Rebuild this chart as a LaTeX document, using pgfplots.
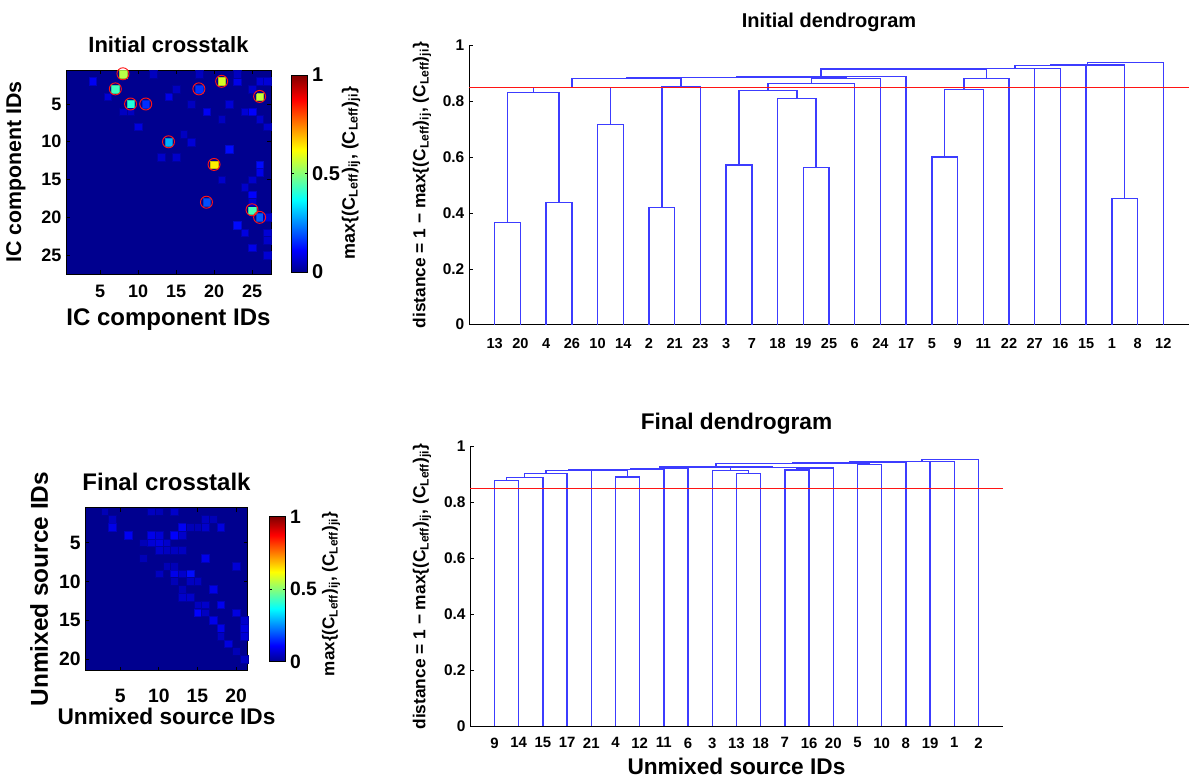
\documentclass[border=0pt]{standalone}
\usepackage{fontspec}
\setmainfont{Liberation Sans}
\usepackage{pgfplots}
\pgfplotsset{compat=1.18}
\definecolor{bgnavy}{RGB}{0,0,143}
\definecolor{mblue}{RGB}{60,60,255}
\definecolor{mred}{RGB}{255,20,20}
\newcommand\fs[1]{\fontsize{#1}{#1}\selectfont\bfseries}
\newcommand\cbl{max\{(C\textsubscript{Leff})\textsubscript{ij}, (C\textsubscript{Leff})\textsubscript{ji}\}}
\pgfplotsset{
  /pgf/number format/assume math mode=true,
  colormap={mjet}{rgb255(0cm)=(0,0,143) rgb255(7cm)=(0,0,255) rgb255(23cm)=(0,255,255) rgb255(39cm)=(255,255,0) rgb255(55cm)=(255,0,0) rgb255(63cm)=(128,0,0)},
  heat/.style={
    scale only axis, anchor=south west, y dir=reverse, enlargelimits=false,
    axis background/.style={fill=bgnavy}, clip=false, axis on top,
    tick align=inside, major tick length=3pt, tick style={black, line width=0.5pt},
    colormap name=mjet, point meta min=0, point meta max=1,
    xlabel style={anchor=center}, ylabel style={anchor=center},
    every axis title/.style={anchor=center},
  },
  dendro/.style={
    scale only axis, anchor=south west, ymin=0, ymax=1,
    axis x line*=bottom, axis y line*=left,
    tick align=inside, major tick length=3pt, tick style={black, line width=0.5pt},
    ytick={0,0.2,0.4,0.6,0.8,1},
    yticklabel style={font=\fs{11.6}},
    every axis title/.style={anchor=center}, ylabel style={anchor=center}, xlabel style={anchor=center},
    unbounded coords=jump, clip=false,
  },
}
\begin{document}
\begin{tikzpicture}
\useasboundingbox (0,0) rectangle (891.75pt,-582.75pt);

% ---------------- Initial crosstalk ----------------
\begin{axis}[heat,
  at={(49.5pt,-205.5pt)}, width=153.75pt, height=153pt,
  xmin=0.5, xmax=27.5, ymin=0.5, ymax=27.5,
  xtick={5,10,15,20,25}, ytick={5,10,15,20,25},
  ticklabel style={font=\fs{13.5}},
  xticklabel style={yshift=-5pt},
  title={Initial crosstalk}, title style={at={(0.5,1.1225)}, font=\fs{16.5}},
  xlabel={IC component IDs}, xlabel style={at={(0.5,-0.2255)}, font=\fs{18}},
  ylabel={IC component IDs}, ylabel style={at={(-0.244,0.5)}, font=\fs{16}},
  colorbar, colorbar style={scale only axis, width=12pt, height=147.75pt,
    at={(parent axis.east)}, anchor=west, xshift=6.75pt, yshift=-1.1pt,
    ytick={0,0.5,1}, yticklabel style={font=\fs{15}}, tick align=inside,
    major tick length=2pt},
]
\addplot[scatter, only marks, mark=square*, mark size=2.85pt, scatter src=explicit, line width=0.1pt]
table[x=c, y=r, meta=v] {
r c v
1 8 0.548
2 21 0.581
3 7 0.428
4 26 0.561
5 9 0.399
5 11 0.156
3 18 0.160
10 14 0.283
13 20 0.633
18 19 0.189
19 25 0.436
20 26 0.200
2 4 0.10
4 6 0.07
8 10 0.08
4 14 0.09
6 19 0.10
2 23 0.09
2 26 0.07
2 27 0.07
6 25 0.11
6 24 0.07
5 22 0.07
11 22 0.12
13 26 0.12
14 26 0.09
17 25 0.11
21 23 0.12
22 24 0.08
24 25 0.09
22 27 0.07
10 17 0.07
12 13 0.06
12 15 0.06
15 21 0.06
6 9 0.05
6 8 0.05
7 26 0.06
8 27 0.06
3 15 0.05
1 18 0.05
1 12 0.05
1 23 0.05
3 25 0.06
5 17 0.05
7 21 0.05
9 16 0.05
16 24 0.06
18 25 0.06
23 27 0.06
20 27 0.07
25 27 0.07
15 25 0.06
};
\addplot[only marks, mark=o, mark size=4.5pt, mred, line width=0.7pt]
table[x=c, y=r] {
r c
1 8
2 21
3 7
4 26
5 9
5 11
3 18
10 14
13 20
18 19
19 25
20 26
};
\end{axis}
\node[rotate=90, font=\fs{13.5}] at (263.25pt,-129.75pt) {\cbl};

% ---------------- Final crosstalk ----------------
\begin{axis}[heat,
  at={(64pt,-503pt)}, width=121.8pt, height=122.25pt,
  xmin=0.5, xmax=21.5, ymin=0.5, ymax=21.5,
  xtick={5,10,15,20}, ytick={5,10,15,20},
  ticklabel style={font=\fs{14.5}},
  xticklabel style={yshift=-10pt},
  title={Final crosstalk}, title style={at={(0.5,1.158)}, font=\fs{18}},
  xlabel={Unmixed source IDs}, xlabel style={at={(0.5,-0.278)}, font=\fs{17}},
  ylabel={Unmixed source IDs}, ylabel style={at={(-0.285,0.5)}, font=\fs{18.3}},
  colorbar, colorbar style={scale only axis, width=11.75pt, height=108.75pt,
    at={(parent axis.east)}, anchor=west, xshift=7.95pt,
    ytick={0,0.5,1}, yticklabel style={font=\fs{14.5}}, tick align=inside,
    major tick length=2pt},
]
\addplot[scatter, only marks, mark=square*, mark size=2.9pt, scatter src=explicit, line width=0.1pt]
table[x=c, y=r, meta=v] {
r c v
1 3 0.04
1 9 0.05
1 10 0.04
1 12 0.06
2 4 0.05
2 16 0.05
2 17 0.04
3 4 0.09
3 13 0.10
3 16 0.06
3 18 0.08
3 14 0.04
3 15 0.04
4 6 0.10
4 9 0.09
4 10 0.07
4 12 0.109
4 13 0.06
5 8 0.04
5 9 0.07
5 10 0.08
5 11 0.06
6 10 0.06
6 11 0.05
6 12 0.05
6 13 0.05
7 8 0.04
7 16 0.09
8 20 0.07
8 11 0.04
8 12 0.04
9 10 0.05
9 12 0.09
9 14 0.122
9 13 0.06
10 12 0.04
10 14 0.05
10 15 0.05
11 17 0.09
11 13 0.04
12 13 0.06
12 14 0.06
13 18 0.095
13 15 0.05
13 16 0.06
14 15 0.111
14 20 0.08
14 16 0.05
15 17 0.09
15 21 0.06
16 18 0.09
16 21 0.08
17 18 0.05
17 21 0.07
18 19 0.08
19 20 0.04
20 21 0.05
};
\end{axis}
\node[rotate=90, font=\fs{12.8}] at (248.25pt,-445.5pt) {\cbl};

% ---------------- Initial dendrogram ----------------
\begin{axis}[dendro,
  at={(351.75pt,-243.5pt)}, width=540pt, height=209.25pt,
  xmin=0, xmax=28,
  xtick={1,...,27},
  xticklabels={13,20,4,26,10,14,2,21,23,3,7,18,19,25,6,24,17,5,9,11,22,27,16,15,1,8,12},
  xticklabel style={font=\fs{10.9}, yshift=-6.5pt},
  title={Initial dendrogram}, title style={at={(0.5,1.085)}, font=\fs{15}},
  ylabel={distance = 1 − \cbl}, ylabel style={at={(-0.0653,0.5)}, font=\fs{13}},
]
\addplot[mblue, line width=1pt] coordinates {
(1,0)(1,.367)(2,.367)(2,0) (nan,nan)
(3,0)(3,.439)(4,.439)(4,0) (nan,nan)
(1.5,.367)(1.5,.832)(3.5,.832)(3.5,.439) (nan,nan)
(5,0)(5,.717)(6,.717)(6,0) (nan,nan)
(2.5,.832)(2.5,.851)(5.5,.851)(5.5,.717) (nan,nan)
(7,0)(7,.419)(8,.419)(8,0) (nan,nan)
(7.5,.419)(7.5,.854)(9,.854)(9,0) (nan,nan)
(4,.851)(4,.882)(8.25,.882)(8.25,.854) (nan,nan)
(10,0)(10,.572)(11,.572)(11,0) (nan,nan)
(13,0)(13,.564)(14,.564)(14,0) (nan,nan)
(12,0)(12,.811)(13.5,.811)(13.5,.564) (nan,nan)
(10.5,.572)(10.5,.840)(12.75,.840)(12.75,.811) (nan,nan)
(11.625,.840)(11.625,.864)(15,.864)(15,0) (nan,nan)
(13.3125,.864)(13.3125,.883)(16,.883)(16,0) (nan,nan)
(6.125,.882)(6.125,.885)(14.656,.885)(14.656,.883) (nan,nan)
(10.39,.885)(10.39,.889)(17,.889)(17,0) (nan,nan)
(18,0)(18,.601)(19,.601)(19,0) (nan,nan)
(18.5,.601)(18.5,.844)(20,.844)(20,0) (nan,nan)
(19.25,.844)(19.25,.882)(21,.882)(21,0) (nan,nan)
(13.695,.889)(13.695,.916)(20.125,.916)(20.125,.882) (nan,nan)
(16.91,.916)(16.91,.917)(22,.917)(22,0) (nan,nan)
(19.455,.917)(19.455,.918)(23,.918)(23,0) (nan,nan)
(21.23,.918)(21.23,.928)(24,.928)(24,0) (nan,nan)
(25,0)(25,.452)(26,.452)(26,0) (nan,nan)
(22.61,.928)(22.61,.931)(25.5,.931)(25.5,.452) (nan,nan)
(24.06,.931)(24.06,.939)(27,.939)(27,0)
};
\addplot[mred, line width=1pt] coordinates {(0,0.85) (28,0.85)};
\end{axis}

% ---------------- Final dendrogram ----------------
\begin{axis}[dendro,
  at={(352.7pt,-544.7pt)}, width=399.3pt, height=209.7pt,
  xmin=0, xmax=22,
  xtick={1,...,21},
  xticklabels={9,14,15,17,21,4,12,11,6,3,13,18,7,16,20,5,10,8,19,1,2},
  xticklabel style={font=\fs{11.2}, yshift=-5pt},
  title={Final dendrogram}, title style={at={(0.5,1.081)}, font=\fs{17}},
  ylabel={distance = 1 − \cbl}, ylabel style={at={(-0.0907,0.5)}, font=\fs{13}},
  xlabel={Unmixed source IDs}, xlabel style={at={(0.5,-0.142)}, font=\fs{17}},
]
\addplot[mblue, line width=1pt] coordinates {
(1,0)(1,.878)(2,.878)(2,0) (nan,nan)
(1.5,.878)(1.5,.889)(3,.889)(3,0) (nan,nan)
(2.25,.889)(2.25,.905)(4,.905)(4,0) (nan,nan)
(3.125,.905)(3.125,.914)(5,.914)(5,0) (nan,nan)
(6,0)(6,.891)(7,.891)(7,0) (nan,nan)
(4.0625,.914)(4.0625,.916)(6.5,.916)(6.5,.891) (nan,nan)
(5.28,.916)(5.28,.919)(8,.919)(8,0) (nan,nan)
(6.64,.919)(6.64,.922)(9,.922)(9,0) (nan,nan)
(11,0)(11,.905)(12,.905)(12,0) (nan,nan)
(10,0)(10,.914)(11.5,.914)(11.5,.905) (nan,nan)
(13,0)(13,.917)(14,.917)(14,0) (nan,nan)
(13.5,.917)(13.5,.924)(15,.924)(15,0) (nan,nan)
(10.75,.914)(10.75,.925)(14.25,.925)(14.25,.924) (nan,nan)
(7.82,.922)(7.82,.927)(12.5,.927)(12.5,.925) (nan,nan)
(16,0)(16,.937)(17,.937)(17,0) (nan,nan)
(10.16,.927)(10.16,.940)(16.5,.940)(16.5,.937) (nan,nan)
(13.33,.940)(13.33,.944)(18,.944)(18,0) (nan,nan)
(15.665,.944)(15.665,.946)(19,.946)(19,0) (nan,nan)
(17.33,.946)(17.33,.948)(20,.948)(20,0) (nan,nan)
(18.67,.948)(18.67,.955)(21,.955)(21,0)
};
\addplot[mred, line width=1pt] coordinates {(0,0.85) (22,0.85)};
\end{axis}
\end{tikzpicture}
\end{document}
